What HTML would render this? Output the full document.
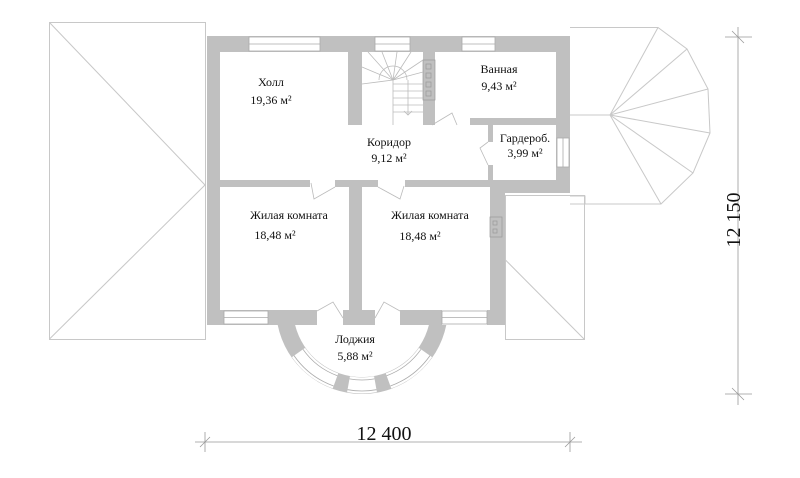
<!DOCTYPE html>
<html><head><meta charset="utf-8"><style>
html,body{margin:0;padding:0;background:#fff;}
svg{display:block;}
text{font-family:"Liberation Serif","DejaVu Serif",serif;font-size:12px;fill:#111;text-anchor:middle;}
</style></head><body>
<svg width="800" height="478" viewBox="0 0 800 478" xmlns="http://www.w3.org/2000/svg">
<g fill="none" stroke="#c8c8c8" stroke-width="1">
 <rect x="49.5" y="22.5" width="156" height="317"/>
 <line x1="49.5" y1="22.5" x2="205" y2="185"/>
 <line x1="205" y1="185" x2="49.5" y2="339"/>
 <polyline points="570,27.5 658,27.5 687,49 708,89 710,133 693,173 661,204 570,204"/>
 <line x1="570" y1="115" x2="610" y2="115"/>
 <line x1="610" y1="115" x2="658" y2="27.5"/>
 <line x1="610" y1="115" x2="687" y2="49"/>
 <line x1="610" y1="115" x2="708" y2="89"/>
 <line x1="610" y1="115" x2="710" y2="133"/>
 <line x1="610" y1="115" x2="693" y2="173"/>
 <line x1="610" y1="115" x2="661" y2="204"/>
 <polyline points="570,196 585,196 585,204"/>
 <rect x="505.5" y="195.5" width="79" height="144"/>
 <line x1="505.5" y1="260" x2="584.5" y2="339.5"/>
</g>
<g fill="#c0c0c0">
 <rect x="207" y="36" width="363" height="16"/>
 <rect x="207" y="36" width="13" height="289"/>
 <rect x="556" y="36" width="14" height="157"/>
 <rect x="490" y="180" width="80" height="13"/>
 <rect x="490" y="180" width="15" height="145"/>
 <rect x="348" y="36" width="14" height="89"/>
 <rect x="423" y="36" width="12" height="89"/>
 <rect x="470" y="118" width="86" height="7"/>
 <rect x="488" y="125" width="5" height="17"/>
 <rect x="488" y="165" width="5" height="20"/>
 <rect x="207" y="180" width="103" height="7"/>
 <rect x="335" y="180" width="43" height="7"/>
 <rect x="405" y="180" width="100" height="7"/>
 <rect x="349" y="187" width="13" height="125"/>
 <rect x="207" y="310" width="61" height="15"/>
 <rect x="268" y="310" width="49" height="15"/>
 <rect x="343" y="310" width="32" height="15"/>
 <rect x="400" y="310" width="42" height="15"/>
 <rect x="487" y="310" width="18" height="15"/>
</g>
<path d="M277.7,325 A86,86 0 0 0 446.3,325 L428.9,325 A69,69 0 0 1 295.1,325 Z" fill="#c0c0c0"/>
<g stroke="#fff" stroke-width="16" fill="none">
 <path d="M298.5,352.5 A77.5,77.5 0 0 0 335.5,380.9"/>
 <path d="M348.5,384.3 A77.5,77.5 0 0 0 375.5,384.3"/>
 <path d="M388.5,380.9 A77.5,77.5 0 0 0 425.5,352.5"/>
</g>
<g stroke="#aaa" stroke-width="0.8" fill="none">
 <path d="M303,349.3 A72,72 0 0 0 337.4,375.7"/>
 <path d="M294,355.6 A83,83 0 0 0 333.6,386"/>
 <path d="M349.5,378.9 A72,72 0 0 0 374.5,378.9"/>
 <path d="M347.6,389.7 A83,83 0 0 0 376.4,389.7"/>
 <path d="M386.6,375.7 A72,72 0 0 0 421,349.3"/>
 <path d="M390.4,386 A83,83 0 0 0 430,355.6"/>
</g>
<g fill="#fff" stroke="#aaa" stroke-width="0.8">
 <rect x="249" y="37" width="71" height="14"/>
 <rect x="375" y="37" width="35" height="14"/>
 <rect x="462" y="37" width="33" height="14"/>
 <rect x="224" y="311" width="44" height="13"/>
 <rect x="442" y="311" width="45" height="13"/>
 <rect x="557" y="138" width="12" height="29"/>
</g>
<g stroke="#aaa" stroke-width="0.8">
 <line x1="249" y1="44" x2="320" y2="44"/>
 <line x1="375" y1="44" x2="410" y2="44"/>
 <line x1="462" y1="44" x2="495" y2="44"/>
 <line x1="224" y1="317.5" x2="268" y2="317.5"/>
 <line x1="442" y1="317.5" x2="487" y2="317.5"/>
 <line x1="563" y1="138" x2="563" y2="167"/>
</g>
<g fill="none" stroke="#999" stroke-width="0.7">
 <rect x="423" y="60" width="12" height="40"/>
 <rect x="426" y="64" width="5" height="5"/>
 <rect x="426" y="73" width="5" height="5"/>
 <rect x="426" y="82" width="5" height="5"/>
 <rect x="426" y="91" width="5" height="5"/>
 <rect x="490" y="217" width="12" height="20"/>
 <rect x="493" y="221" width="4" height="4"/>
 <rect x="493" y="229" width="4" height="4"/>
</g>
<g fill="none" stroke="#bbb" stroke-width="0.8">
 <path d="M379,80 A14,14 0 0 1 407,80"/>
 <line x1="393" y1="80" x2="393" y2="125"/>
 <line x1="408" y1="80" x2="408" y2="115"/>
 <line x1="393" y1="80" x2="362" y2="67"/>
 <line x1="393" y1="80" x2="368" y2="52"/>
 <line x1="393" y1="80" x2="382" y2="52"/>
 <line x1="393" y1="80" x2="397" y2="52"/>
 <line x1="393" y1="80" x2="411" y2="52"/>
 <line x1="393" y1="80" x2="423" y2="60"/>
 <line x1="393" y1="80" x2="423" y2="72"/>
 <line x1="393" y1="80" x2="362" y2="84"/>
 <line x1="393" y1="84" x2="423" y2="84"/>
 <line x1="393" y1="91" x2="423" y2="91"/>
 <line x1="393" y1="98" x2="423" y2="98"/>
 <line x1="393" y1="105" x2="423" y2="105"/>
 <line x1="393" y1="112" x2="423" y2="112"/>
 <polyline points="404,111 408,115 412,111"/>
 <polyline points="311,183 314,199 335,187"/>
 <polyline points="378,187 400,199 404,186"/>
 <polyline points="432,125 452,113 457,125"/>
 <polyline points="488,142 480,148 488,165"/>
 <polyline points="317,311 333,302 343,318"/>
 <polyline points="375,318 384,302 400,311"/>
</g>
<g stroke="#999" stroke-width="0.8">
 <line x1="195" y1="442" x2="582" y2="442"/>
 <line x1="205" y1="432" x2="205" y2="452"/>
 <line x1="200" y1="447" x2="210" y2="437"/>
 <line x1="570" y1="432" x2="570" y2="452"/>
 <line x1="565" y1="447" x2="575" y2="437"/>
 <line x1="738" y1="27" x2="738" y2="405"/>
 <line x1="725" y1="37" x2="752" y2="37"/>
 <line x1="732" y1="31" x2="744" y2="43"/>
 <line x1="725" y1="394" x2="752" y2="394"/>
 <line x1="732" y1="388" x2="744" y2="400"/>
</g>
<text x="384" y="440" style="font-size:20px">12 400</text>
<text x="733" y="220" style="font-size:20px" transform="rotate(-90 733 220)" dy="7">12 150</text>
<text x="271" y="86">Холл</text>
<text x="271" y="104">19,36 м²</text>
<text x="499" y="73">Ванная</text>
<text x="499" y="90">9,43 м²</text>
<text x="389" y="146">Коридор</text>
<text x="389" y="162">9,12 м²</text>
<text x="525" y="142">Гардероб.</text>
<text x="525" y="157">3,99 м²</text>
<text x="289" y="219">Жилая комната</text>
<text x="275" y="239">18,48 м²</text>
<text x="430" y="219">Жилая комната</text>
<text x="420" y="240">18,48 м²</text>
<text x="355" y="343">Лоджия</text>
<text x="355" y="360">5,88 м²</text>
</svg>
</body></html>
